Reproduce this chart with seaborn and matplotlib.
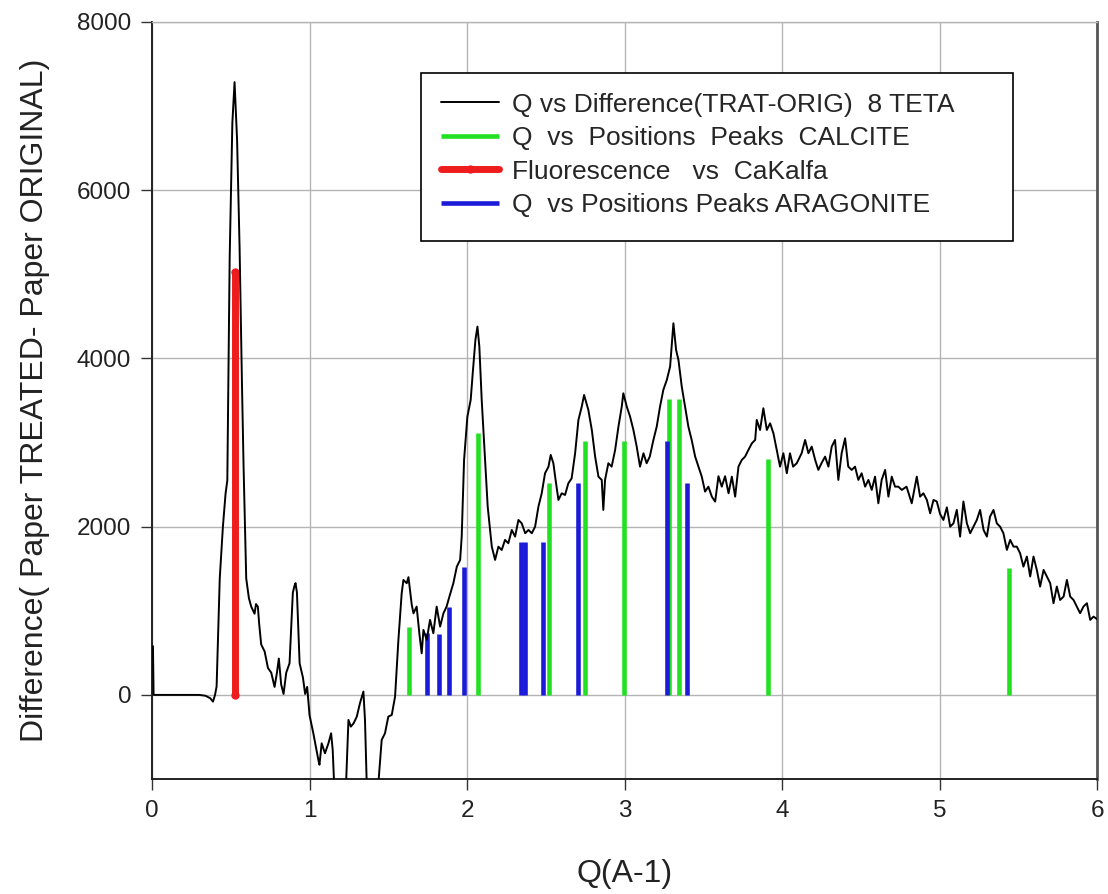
import numpy as np
import pandas as pd
import matplotlib
matplotlib.use("Agg")
import matplotlib.pyplot as plt
from matplotlib.patches import Rectangle
import seaborn as sns

# ---- data ----
q_diff = [0.000, 0.006, 0.010, 0.100, 0.200, 0.300, 0.340, 0.370, 0.387, 0.400,
          0.410, 0.430, 0.450, 0.467, 0.478, 0.493, 0.510, 0.524, 0.540, 0.556,
          0.570, 0.581, 0.598, 0.615, 0.630, 0.651, 0.660, 0.672, 0.680, 0.693,
          0.715, 0.736, 0.757, 0.778, 0.793, 0.805, 0.820, 0.835, 0.852, 0.873,
          0.894, 0.905, 0.911, 0.920, 0.937, 0.958, 0.972, 0.985, 1.000, 1.024,
          1.042, 1.056, 1.063, 1.077, 1.098, 1.120, 1.137, 1.147, 1.156, 1.180,
          1.220, 1.232, 1.247, 1.262, 1.280, 1.300, 1.320, 1.342, 1.352, 1.363,
          1.390, 1.425, 1.437, 1.458, 1.479, 1.500, 1.522, 1.543, 1.564, 1.585,
          1.596, 1.617, 1.628, 1.649, 1.660, 1.680, 1.697, 1.712, 1.723, 1.744,
          1.765, 1.786, 1.807, 1.829, 1.850, 1.870, 1.888, 1.913, 1.935, 1.956,
          1.966, 1.981, 2.002, 2.023, 2.036, 2.053, 2.066, 2.078, 2.093, 2.114,
          2.131, 2.157, 2.178, 2.199, 2.220, 2.241, 2.262, 2.284, 2.305, 2.326,
          2.347, 2.369, 2.390, 2.411, 2.432, 2.453, 2.474, 2.495, 2.517, 2.531,
          2.548, 2.562, 2.580, 2.601, 2.622, 2.643, 2.664, 2.686, 2.707, 2.728,
          2.743, 2.770, 2.792, 2.813, 2.834, 2.855, 2.865, 2.876, 2.897, 2.918,
          2.940, 2.961, 2.982, 2.992, 3.014, 3.035, 3.056, 3.077, 3.098, 3.120,
          3.140, 3.160, 3.183, 3.204, 3.225, 3.246, 3.268, 3.289, 3.310, 3.327,
          3.342, 3.363, 3.384, 3.405, 3.426, 3.448, 3.469, 3.490, 3.511, 3.532,
          3.554, 3.575, 3.596, 3.617, 3.638, 3.660, 3.681, 3.702, 3.723, 3.744,
          3.765, 3.786, 3.808, 3.829, 3.839, 3.860, 3.881, 3.903, 3.924, 3.945,
          3.966, 3.987, 4.008, 4.030, 4.050, 4.070, 4.093, 4.124, 4.146, 4.167,
          4.188, 4.210, 4.230, 4.250, 4.273, 4.294, 4.315, 4.336, 4.357, 4.378,
          4.400, 4.420, 4.442, 4.463, 4.484, 4.505, 4.527, 4.548, 4.569, 4.590,
          4.611, 4.632, 4.654, 4.675, 4.696, 4.717, 4.738, 4.760, 4.790, 4.823,
          4.855, 4.876, 4.897, 4.919, 4.940, 4.961, 4.982, 5.003, 5.024, 5.046,
          5.067, 5.088, 5.109, 5.130, 5.151, 5.173, 5.194, 5.215, 5.236, 5.257,
          5.279, 5.300, 5.320, 5.342, 5.363, 5.384, 5.405, 5.427, 5.448, 5.469,
          5.490, 5.511, 5.532, 5.554, 5.575, 5.596, 5.617, 5.638, 5.660, 5.681,
          5.702, 5.723, 5.744, 5.765, 5.787, 5.808, 5.829, 5.850, 5.871, 5.892,
          5.913, 5.935, 5.956, 5.977, 6.000]
diff_val = [580, 580, 0, 0, 0, 0, -10, -40, -80, 0,
            100, 1385, 2000, 2395, 2550, 5200, 6800, 7285, 6600, 5311,
            3800, 2731, 1385, 1150, 1049, 965, 1080, 1049, 850, 600,
            516, 320, 264, 95, 264, 432, 123, 11, 264, 376,
            1217, 1300, 1329, 1217, 376, 208, 11, 95, -241, -456,
            -634, -773, -830, -575, -694, -575, -456, -654, -1050, -1400,
            -1400, -1050, -297, -377, -337, -258, -99, 40, -297, -1050,
            -1400, -1400, -1050, -535, -456, -258, -238, -20, 650, 1209,
            1367, 1328, 1400, 1070, 970, 1050, 733, 495, 773, 654,
            892, 733, 1050, 812, 970, 1050, 1169, 1328, 1525, 1605,
            1882, 2793, 3308, 3507, 3824, 4220, 4379, 4141, 3507, 2793,
            2238, 1763, 1605, 1763, 1723, 1843, 1803, 1961, 1882, 2080,
            2040, 1922, 1961, 1922, 2000, 2238, 2397, 2635, 2714, 2853,
            2754, 2556, 2318, 2397, 2377, 2516, 2575, 2873, 3269, 3427,
            3566, 3388, 3150, 2833, 2595, 2556, 2199, 2556, 2754, 2714,
            2912, 3189, 3427, 3586, 3427, 3308, 3150, 2952, 2714, 2873,
            2754, 2833, 3031, 3189, 3427, 3626, 3744, 3903, 4418, 4101,
            3982, 3665, 3427, 3189, 3031, 2833, 2714, 2595, 2417, 2476,
            2357, 2298, 2600, 2476, 2600, 2397, 2595, 2357, 2714, 2793,
            2833, 2912, 2991, 3031, 3269, 3150, 3408, 3150, 3229, 3110,
            2912, 2714, 2873, 2635, 2873, 2714, 2754, 2873, 3031, 2873,
            2952, 2793, 2675, 2754, 2833, 2714, 2952, 3031, 2556, 2873,
            3051, 2714, 2675, 2714, 2556, 2635, 2476, 2556, 2437, 2595,
            2278, 2556, 2675, 2357, 2595, 2476, 2476, 2437, 2476, 2278,
            2595, 2357, 2397, 2318, 2159, 2318, 2300, 2150, 2080, 2230,
            2000, 2040, 2200, 1882, 2300, 2040, 1922, 2000, 2080, 2199,
            1961, 1882, 2119, 2199, 2040, 2000, 1922, 1724, 1843, 1763,
            1763, 1684, 1525, 1645, 1407, 1645, 1486, 1288, 1486, 1407,
            1328, 1090, 1288, 1129, 1169, 1367, 1169, 1129, 1050, 971,
            1050, 1090, 892, 931, 900]

calcite_q = [1.632, 2.070, 2.519, 2.751, 2.994, 3.284, 3.348, 3.913, 5.441]
calcite_h = [810, 3110, 2520, 3020, 3020, 3520, 3520, 2810, 1510]

aragonite_q = [1.746, 1.822, 1.885, 1.980, 2.340, 2.371, 2.483, 2.703, 3.270, 3.396]
aragonite_h = [740, 730, 1050, 1520, 1820, 1820, 1820, 2515, 3015, 2515]

fluor_q = [0.527]
fluor_h = [5030]

x_ticks = [0, 1, 2, 3, 4, 5, 6]
y_ticks = [0, 2000, 4000, 6000, 8000]

labels = ["Q vs Difference(TRAT-ORIG)  8 TETA",
          "Q  vs  Positions  Peaks  CALCITE",
          "Fluorescence   vs  CaKalfa",
          "Q  vs Positions Peaks ARAGONITE"]

# ---- plot ----
sns.set_theme(style="white")
plt.rcParams['font.family'] = ['Liberation Sans', 'DejaVu Sans']

fig = plt.figure(figsize=(11.08, 8.94), dpi=100)
ax = fig.add_axes([0.1372, 0.1286, 0.8530, 0.8468])

df = pd.DataFrame({"Q": q_diff, "D": diff_val})
sns.lineplot(data=df, x="Q", y="D", ax=ax, color="black", linewidth=1.4,
             sort=False, estimator=None, label=labels[0], zorder=4)

ax.vlines(calcite_q, 0, calcite_h, colors="#22e022", linewidth=3.3,
          label=labels[1], zorder=3)
ax.plot([fluor_q[0], fluor_q[0]], [0, fluor_h[0]], color="#ee1c1c",
        linewidth=5.0, marker="o", markersize=5, label=labels[2], zorder=3)
ax.vlines(aragonite_q, 0, aragonite_h, colors="#1a1ad8", linewidth=3.3,
          label=labels[3], zorder=3.5)

ax.set_xlim(0, 6)
ax.set_ylim(-1000, 8000)
ax.set_xticks(x_ticks)
ax.set_yticks(y_ticks)
ax.set_xticklabels([str(t) for t in x_ticks])
ax.set_yticklabels([str(t) for t in y_ticks])
ax.grid(True, color="#b4b4b4", linewidth=1.0)
ax.set_axisbelow(True)

ax.tick_params(axis="both", which="major", direction="out", length=8,
               width=1.0, color="#333333", labelsize=17.5, labelcolor="#222222",
               pad=7, left=True, bottom=True)

for side in ["left", "bottom"]:
    ax.spines[side].set_color("#222222")
    ax.spines[side].set_linewidth(1.4)
ax.spines["right"].set_color("#555555")
ax.spines["right"].set_linewidth(2.0)
ax.spines["top"].set_color("#b4b4b4")
ax.spines["top"].set_linewidth(1.0)

ax.set_xlabel("Q(A-1)", fontsize=23, color="#222222")
ax.set_ylabel("Difference( Paper TREATED- Paper ORIGINAL)", fontsize=23,
              color="#222222")
ax.xaxis.set_label_coords(0.5, -0.106)
ax.yaxis.set_label_coords(-0.108, 0.5)

# legend frame (wider than its content, as in the original)
frame = Rectangle((0.2847, 0.7107), 0.9111 - 0.2847, 0.9326 - 0.7107,
                  transform=ax.transAxes, facecolor="white", edgecolor="black",
                  linewidth=1.2, zorder=4.8)
ax.add_patch(frame)

handles, labs = ax.get_legend_handles_labels()
order = [labs.index(l) for l in labels]
leg = ax.legend([handles[i] for i in order], [labs[i] for i in order],
                loc="upper left", bbox_to_anchor=(0.2847, 0.933),
                frameon=False, fontsize=19, handlelength=2.2,
                handletextpad=0.5, labelspacing=0.36, borderpad=0.75,
                borderaxespad=0.0)
leg.set_zorder(5)

fig.savefig("out.png", dpi=100)
